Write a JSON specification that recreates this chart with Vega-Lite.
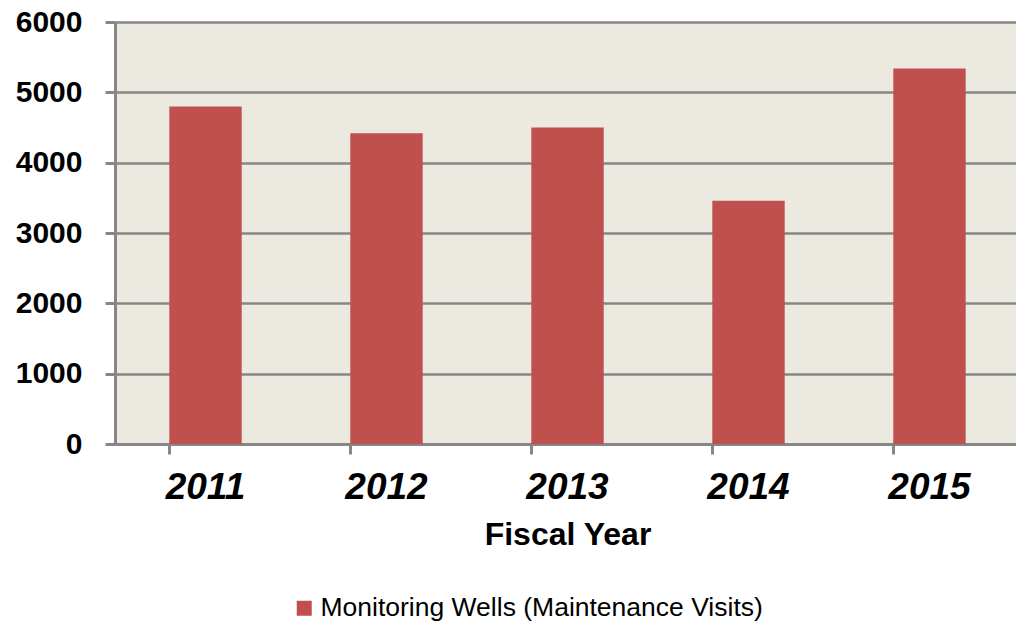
{
  "$schema": "https://vega.github.io/schema/vega-lite/v6.json",
  "autosize": "none",
  "width": 905,
  "height": 422,
  "padding": {"left": 115, "top": 22, "right": 0, "bottom": 182},
  "background": "#ffffff",
  "config": {
    "font": "Liberation Sans",
    "view": {"fill": "#ECEAE0", "stroke": null}
  },
  "data": {
    "values": [
      {"year": "2011", "visits": 4800, "series": "Monitoring Wells (Maintenance Visits)"},
      {"year": "2012", "visits": 4420, "series": "Monitoring Wells (Maintenance Visits)"},
      {"year": "2013", "visits": 4500, "series": "Monitoring Wells (Maintenance Visits)"},
      {"year": "2014", "visits": 3460, "series": "Monitoring Wells (Maintenance Visits)"},
      {"year": "2015", "visits": 5340, "series": "Monitoring Wells (Maintenance Visits)"}
    ]
  },
  "mark": {"type": "bar"},
  "encoding": {
    "x": {
      "field": "year",
      "type": "ordinal",
      "scale": {"paddingInner": 0.6, "paddingOuter": 0.3},
      "axis": {
        "title": "Fiscal Year",
        "titleFont": "Liberation Sans",
        "titleFontSize": 32,
        "titleFontWeight": "bold",
        "titleColor": "#000000",
        "titlePadding": 14,
        "labelFont": "Liberation Sans",
        "labelFontSize": 37,
        "labelFontWeight": "bold",
        "labelFontStyle": "italic",
        "labelColor": "#000000",
        "labelAngle": 0,
        "labelPadding": 15,
        "bandPosition": 0,
        "ticks": true,
        "tickSize": 10,
        "tickWidth": 3,
        "tickColor": "#868686",
        "domainColor": "#868686",
        "domainWidth": 3,
        "grid": false
      }
    },
    "y": {
      "field": "visits",
      "type": "quantitative",
      "scale": {"domain": [0, 6000], "nice": false},
      "axis": {
        "title": null,
        "values": [0, 1000, 2000, 3000, 4000, 5000, 6000],
        "format": "d",
        "labelFont": "Liberation Sans",
        "labelFontSize": 30,
        "labelFontWeight": "bold",
        "labelColor": "#000000",
        "labelPadding": 23,
        "tickSize": 10,
        "tickWidth": 3,
        "tickColor": "#868686",
        "domainColor": "#868686",
        "domainWidth": 3,
        "grid": true,
        "gridColor": "#868686",
        "gridWidth": 2.5,
        "gridOpacity": 1
      }
    },
    "color": {
      "field": "series",
      "type": "nominal",
      "scale": {"range": ["#C0504D"]},
      "legend": {
        "title": null,
        "orient": "none",
        "legendX": 176,
        "legendY": 573,
        "symbolType": "square",
        "symbolSize": 225,
        "symbolStrokeWidth": 0,
        "labelFont": "Liberation Sans",
        "labelFontSize": 26.5,
        "labelColor": "#000000",
        "labelOffset": 3,
        "labelLimit": 1000
      }
    }
  }
}
